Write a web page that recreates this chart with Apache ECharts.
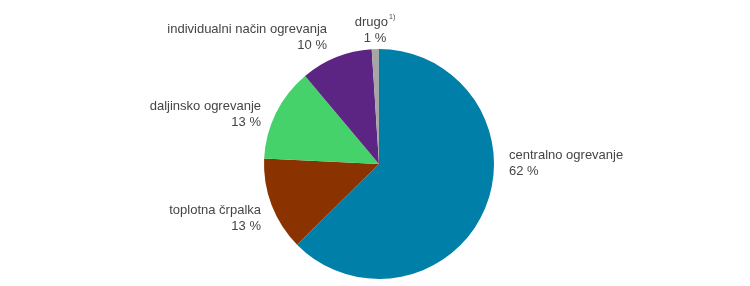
<!DOCTYPE html>
<html>
<head>
<meta charset="utf-8">
<script src="https://cdn.jsdelivr.net/npm/echarts@6/dist/echarts.min.js"></script>
<style>html,body{margin:0;padding:0;background:#fff;}#c{width:750px;height:286px;}</style>
</head>
<body>
<div id="c"></div>
<script>
// Data
const categories = ['centralno ogrevanje', 'toplotna črpalka', 'daljinsko ogrevanje', 'individualni način ogrevanja', 'drugo'];
const values = [62, 13, 13, 10, 1];
const footnotes = ['', '', '', '', '1)'];

// Styles / layout (not data)
const colors = ['#0080a8', '#8b3300', '#45d26a', '#5c2483', '#a6a6a6'];
const labelAnchors = [
  {x: 509, y: 163, align: 'left'},
  {x: 261, y: 218, align: 'right'},
  {x: 261, y: 114.5, align: 'right'},
  {x: 327, y: 37.5, align: 'right'},
  {x: 375, y: 30, align: 'center'}
];

const chart = echarts.init(document.getElementById('c'), null, {renderer: 'canvas'});
chart.setOption({
  animation: false,
  series: [{
    type: 'pie',
    center: [379, 164],
    radius: [0, 115],
    startAngle: 90,
    clockwise: true,
    avoidLabelOverlap: false,
    data: categories.map((n, i) => ({
      name: n, value: values[i],
      itemStyle: {color: colors[i]}
    })),
    itemStyle: {borderWidth: 0},
    label: {
      show: true,
      position: 'outside',
      color: '#454545',
      fontFamily: 'Liberation Sans, Arial, sans-serif',
      fontSize: 13,
      lineHeight: 16,
      formatter: p => {
        const fn = footnotes[p.dataIndex];
        return p.name + (fn ? '{sup|' + fn + '}' : '') + '\n' + p.value + ' %';
      },
      rich: {
        sup: {fontSize: 7, verticalAlign: 'top', color: '#454545', padding: [0, 0, 6, 1], fontFamily: 'Liberation Sans, Arial, sans-serif'}
      }
    },
    labelLine: {show: false},
    labelLayout: p => {
      const a = labelAnchors[p.dataIndex];
      return {x: a.x, y: a.y, align: a.align, verticalAlign: 'middle', hideOverlap: false};
    },
    emphasis: {disabled: true}
  }]
});
</script>
</body>
</html>
